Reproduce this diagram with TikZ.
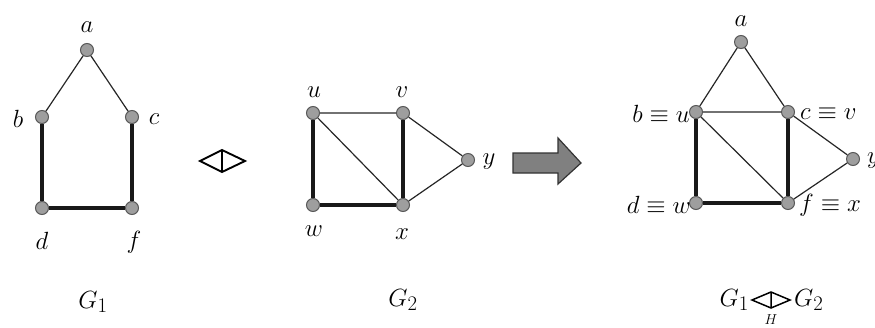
\documentclass[tikz,border=0pt]{standalone}
\usetikzlibrary{calc}
\begin{document}
\begin{tikzpicture}[x=1pt,y=-1pt,
  vtx/.style={circle,draw=black!65,fill=black!38,line width=1pt,minimum size=13pt,inner sep=0pt},
  thin edge/.style={draw=black!85,line width=1.2pt},
  thick edge/.style={draw=black!90,line width=3.4pt},
  lbl/.style={inner sep=0pt,font=\fontsize{30}{32}\selectfont},
  glbl/.style={inner sep=0pt,font=\fontsize{30}{32}\selectfont},
  opshape/.style={draw=black,line width=1.9pt,line join=miter},
  bigarrow/.style={draw=black!80,fill=black!50,line width=1.2pt,line join=miter}]
\useasboundingbox (0,0) rectangle (875,327);
% G1
\node[vtx] (a1) at (87,50) {};
\node[vtx] (b1) at (42,117) {};
\node[vtx] (c1) at (132,117) {};
\node[vtx] (d1) at (42,208) {};
\node[vtx] (f1) at (132,208) {};
\path[thin edge] (a1) -- (b1) (a1) -- (c1);
\path[thick edge] (b1) -- (d1) (c1) -- (f1) (d1) -- (f1);
\node[lbl] (la1) at (87,27) {$a$};
\node[lbl] (lb1) at (18,119) {$b$};
\node[lbl] (lc1) at (154,119) {$c$};
\node[lbl] (ld1) at (42,241) {$d$};
\node[lbl] (lf1) at (134,242) {$f$};
\node[glbl] (g1) at (93,302) {$G_1$};
% operator
\coordinate (opL) at (200,161);
\coordinate (opT) at (222,150);
\coordinate (opR) at (245,161);
\coordinate (opB) at (222,172);
\draw[opshape] (opL) -- (opT) -- (opR) -- (opB) -- cycle (opT) -- (opB);
% G2
\node[vtx] (u2) at (313,113) {};
\node[vtx] (v2) at (403,113) {};
\node[vtx] (y2) at (468,160) {};
\node[vtx] (w2) at (313,205) {};
\node[vtx] (x2) at (403,205) {};
\path[thin edge] (u2) -- (v2) (u2) -- (x2) (v2) -- (y2) (x2) -- (y2);
\path[thick edge] (u2) -- (w2) (v2) -- (x2) (w2) -- (x2);
\node[lbl] (lu2) at (314,92) {$u$};
\node[lbl] (lv2) at (402,92) {$v$};
\node[lbl] (ly2) at (489,162) {$y$};
\node[lbl] (lw2) at (314,231) {$w$};
\node[lbl] (lx2) at (402,234) {$x$};
\node[glbl] (g2) at (403,300) {$G_2$};
% big arrow
\draw[bigarrow] (513,153) -- (558,153) -- (558,138) -- (581,163) -- (558,184) -- (558,173) -- (513,173) -- cycle;
% G3
\node[vtx] (a3) at (741,42) {};
\node[vtx] (b3) at (696,112) {};
\node[vtx] (c3) at (788,112) {};
\node[vtx] (y3) at (853,159) {};
\node[vtx] (d3) at (696,203) {};
\node[vtx] (f3) at (788,203) {};
\path[thin edge] (a3) -- (b3) (a3) -- (c3) (b3) -- (c3) (b3) -- (f3) (c3) -- (y3) (f3) -- (y3);
\path[thick edge] (b3) -- (d3) (c3) -- (f3) (d3) -- (f3);
\node[lbl] (la3) at (741,21) {$a$};
\node[lbl,anchor=east] (lb3) at (690,114) {$b\equiv u$};
\node[lbl,anchor=west] (lc3) at (800,114) {$c\equiv v$};
\node[lbl,anchor=west] (ly3) at (867,161) {$y$};
\node[lbl,anchor=east] (ld3) at (691,205) {$d\equiv w$};
\node[lbl,anchor=west] (lf3) at (799,205) {$f\equiv x$};
% G1 op_H G2
\node[glbl,anchor=east] (g13) at (749,300) {$G_1$};
\coordinate (sL) at (752,300);
\coordinate (sT) at (771,292);
\coordinate (sR) at (790,300);
\coordinate (sB) at (771,308);
\draw[opshape,line width=1.5pt] (sL) -- (sT) -- (sR) -- (sB) -- cycle (sT) -- (sB);
\node[glbl,anchor=west] (g23) at (794,300) {$G_2$};
\node[inner sep=0pt,font=\fontsize{15}{17}\selectfont] (hh) at (771,320) {$H$};
\end{tikzpicture}
\end{document}
